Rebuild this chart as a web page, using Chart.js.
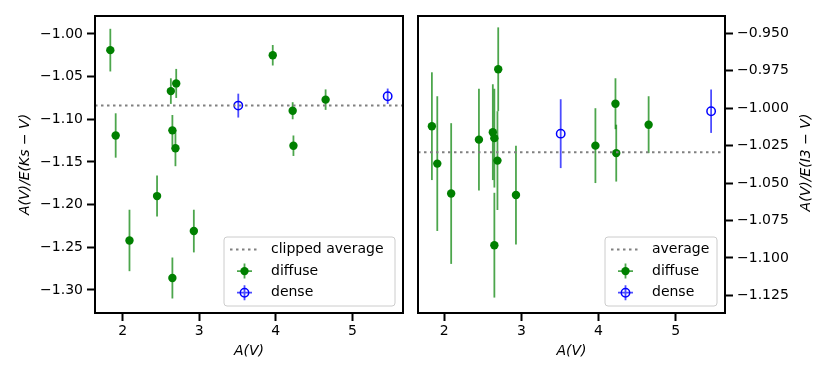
<!DOCTYPE html>
<html>
<head>
<meta charset="utf-8">
<script src="https://cdn.jsdelivr.net/npm/chart.js@4.4.0/dist/chart.umd.min.js"></script>
<style>
  html, body { margin: 0; padding: 0; background: #fff; }
  #wrap { position: relative; width: 830px; height: 378px; }
  #wrap canvas { position: absolute; top: 0; }
  #ksChart { left: 0; }
  #i3Chart { left: 410px; }
</style>
</head>
<body>
<div id="wrap">
  <canvas id="ksChart" width="410" height="378"></canvas>
  <canvas id="i3Chart" width="420" height="378"></canvas>
</div>
<script>
// A(V) of each sightline (shared by both panels)
const diffuseAV = [1.84, 1.91, 2.09, 2.45, 2.63, 2.65, 2.65, 2.69, 2.70, 2.93, 3.96, 4.22, 4.23, 4.65];
const denseAV = [3.51, 5.46];

// left panel: A(V)/E(Ks - V)
const diffuseKs = [-1.019, -1.119, -1.242, -1.190, -1.067, -1.113, -1.286, -1.134, -1.058, -1.231, -1.025, -1.090, -1.131, -1.077];
const diffuseKsErr = [0.025, 0.026, 0.036, 0.024, 0.015, 0.018, 0.024, 0.021, 0.017, 0.025, 0.012, 0.010, 0.012, 0.012];
const denseKs = [-1.084, -1.073];
const denseKsErr = [0.014, 0.009];
const ksAverage = -1.084;

// right panel: A(V)/E(I3 - V)
const diffuseI3 = [-1.012, -1.037, -1.057, -1.021, -1.016, -1.020, -1.0915, -1.035, -0.974, -1.058, -1.025, -0.997, -1.030, -1.011];
const diffuseI3Err = [0.036, 0.045, 0.047, 0.034, 0.032, 0.033, 0.035, 0.033, 0.028, 0.033, 0.025, 0.017, 0.019, 0.019];
const denseI3 = [-1.017, -1.002];
const denseI3Err = [0.023, 0.0145];
const i3Average = -1.0295;

// tick labels
const avTicks = [2, 3, 4, 5];
const ksTicks = [-1.30, -1.25, -1.20, -1.15, -1.10, -1.05, -1.00];
const i3Ticks = [-1.125, -1.100, -1.075, -1.050, -1.025, -1.000, -0.975, -0.950];

const FONT = 'DejaVu Sans';
const GREEN = '#008000';
const BLUE = '#0000ff';
const GREEN_BAR = 'rgba(0,128,0,0.7)';
const BLUE_BAR = 'rgba(0,0,255,0.7)';

function pts(xs, ys) {
  return xs.map((x, i) => ({ x: x, y: ys[i] }));
}

function minusFmt(digits) {
  return v => (v < 0 ? '\u2212' : '') + Math.abs(v).toFixed(digits);
}

// vertical error bars, drawn under the markers
const errorBars = {
  id: 'errorBars',
  beforeDatasetsDraw(chart) {
    const { ctx, chartArea, scales: { x, y } } = chart;
    ctx.save();
    ctx.beginPath();
    ctx.rect(chartArea.left, chartArea.top, chartArea.width, chartArea.height);
    ctx.clip();
    chart.data.datasets.forEach(ds => {
      if (!ds.yErr) return;
      ctx.strokeStyle = ds.barColor;
      ctx.lineWidth = 1.8;
      ds.data.forEach((p, i) => {
        const px = x.getPixelForValue(p.x);
        ctx.beginPath();
        ctx.moveTo(px, y.getPixelForValue(p.y - ds.yErr[i]));
        ctx.lineTo(px, y.getPixelForValue(p.y + ds.yErr[i]));
        ctx.stroke();
      });
    });
    ctx.restore();
  }
};

function drawHandle(ctx, kind, x0, cy) {
  if (kind === 'line') {
    ctx.strokeStyle = '#808080';
    ctx.lineWidth = 2;
    ctx.setLineDash([2.5, 3.5]);
    ctx.beginPath();
    ctx.moveTo(x0, cy);
    ctx.lineTo(x0 + 29, cy);
    ctx.stroke();
    ctx.setLineDash([]);
    return;
  }
  const cx = x0 + 14.5;
  const bar = kind === 'diffuse' ? GREEN_BAR : BLUE_BAR;
  ctx.strokeStyle = bar;
  ctx.lineWidth = 1.8;
  ctx.beginPath();
  ctx.moveTo(cx - 7.5, cy); ctx.lineTo(cx + 7.5, cy);
  ctx.moveTo(cx, cy - 7.5); ctx.lineTo(cx, cy + 7.5);
  ctx.stroke();
  ctx.beginPath();
  ctx.arc(cx, cy, 4.2, 0, Math.PI * 2);
  if (kind === 'diffuse') {
    ctx.fillStyle = GREEN;
    ctx.fill();
  } else {
    ctx.strokeStyle = BLUE;
    ctx.lineWidth = 1.5;
    ctx.stroke();
  }
}

// frame, legend box and right-hand axis title
const decor = {
  id: 'decor',
  afterDraw(chart, args, opts) {
    const { ctx, chartArea } = chart;
    ctx.save();
    const lg = opts.legend;
    if (lg) {
      const bx = chartArea.right - 8 - lg.width;
      const by = chartArea.bottom - 7 - 69;
      ctx.beginPath();
      ctx.roundRect(bx, by, lg.width, 69, 3);
      ctx.fillStyle = 'rgba(255,255,255,0.8)';
      ctx.fill();
      ctx.strokeStyle = '#cccccc';
      ctx.lineWidth = 1;
      ctx.stroke();
      ctx.font = '14px "' + FONT + '"';
      ctx.textBaseline = 'middle';
      ctx.textAlign = 'left';
      lg.items.forEach((it, i) => {
        const cy = by + 12.5 + i * 21.6;
        drawHandle(ctx, it.kind, bx + 6, cy);
        ctx.fillStyle = '#000';
        ctx.fillText(it.label, bx + 47, cy);
      });
    }
    if (opts.sideTitle) {
      ctx.save();
      ctx.translate(opts.sideTitle.x, (chartArea.top + chartArea.bottom) / 2 - 2);
      ctx.rotate(-Math.PI / 2);
      ctx.font = 'italic 14px "' + FONT + '"';
      ctx.fillStyle = '#000';
      ctx.textAlign = 'center';
      ctx.textBaseline = 'middle';
      ctx.fillText(opts.sideTitle.text, 0, 0);
      ctx.restore();
    }
    ctx.strokeStyle = '#000';
    ctx.lineWidth = 2;
    ctx.strokeRect(chartArea.left, chartArea.top, chartArea.width, chartArea.height);
    ctx.restore();
  }
};

function makeChart(id, cfg) {
  const tickFont = { family: FONT, size: 14 };
  return new Chart(document.getElementById(id), {
    type: 'scatter',
    data: {
      datasets: [
        {
          label: cfg.avgLabel,
          type: 'line',
          data: [{ x: cfg.xMin, y: cfg.avg }, { x: cfg.xMax, y: cfg.avg }],
          borderColor: '#808080',
          borderWidth: 2,
          borderDash: [2.5, 3.5],
          pointRadius: 0,
          fill: false
        },
        {
          label: 'diffuse',
          data: pts(diffuseAV, cfg.diffuse),
          yErr: cfg.diffuseErr,
          barColor: GREEN_BAR,
          pointRadius: 4.2,
          pointBackgroundColor: GREEN,
          pointBorderWidth: 0
        },
        {
          label: 'dense',
          data: pts(denseAV, cfg.dense),
          yErr: cfg.denseErr,
          barColor: BLUE_BAR,
          pointRadius: 4.2,
          pointBackgroundColor: 'rgba(0,0,0,0)',
          pointBorderColor: BLUE,
          pointBorderWidth: 1.5
        }
      ]
    },
    options: {
      responsive: false,
      animation: false,
      layout: { padding: cfg.padding },
      plugins: {
        legend: { display: false },
        tooltip: { enabled: false },
        decor: { legend: { width: cfg.legendWidth, items: [
          { kind: 'line', label: cfg.avgLabel },
          { kind: 'diffuse', label: 'diffuse' },
          { kind: 'dense', label: 'dense' }
        ] }, sideTitle: cfg.sideTitle }
      },
      scales: {
        x: {
          type: 'linear',
          min: cfg.xMin,
          max: cfg.xMax,
          afterBuildTicks: s => { s.ticks = avTicks.map(v => ({ value: v })); },
          afterFit: s => { s.height = 65; },
          grid: { drawOnChartArea: false, drawTicks: true, tickLength: 8, tickWidth: 2, tickColor: '#000' },
          border: { display: false },
          ticks: { color: '#000', font: tickFont, padding: 2, maxRotation: 0, callback: v => String(v) },
          title: { display: true, text: 'A(V)', color: '#000',
                   font: { family: FONT, size: 14, style: 'italic' }, padding: { top: 0, bottom: 18 } }
        },
        y: {
          type: 'linear',
          position: cfg.yPos,
          min: cfg.yMin,
          max: cfg.yMax,
          afterBuildTicks: s => { s.ticks = cfg.yTicks.map(v => ({ value: v })); },
          afterFit: s => { s.width = cfg.yWidth; },
          grid: { drawOnChartArea: false, drawTicks: true, tickLength: 8, tickWidth: 2, tickColor: '#000' },
          border: { display: false },
          ticks: { color: '#000', font: tickFont, padding: 4, callback: minusFmt(cfg.digits) },
          title: cfg.yTitle
            ? { display: true, text: cfg.yTitle, color: '#000',
                font: { family: FONT, size: 14, style: 'italic' }, padding: { top: 17, bottom: 0 } }
            : { display: false }
        }
      }
    },
    plugins: [errorBars, decor]
  });
}

makeChart('ksChart', {
  xMin: 1.64, xMax: 5.66, yMin: -1.327, yMax: -0.979,
  yTicks: ksTicks, digits: 2, yPos: 'left', yWidth: 95,
  padding: { top: 16, right: 7, left: 0, bottom: 0 },
  diffuse: diffuseKs, diffuseErr: diffuseKsErr, dense: denseKs, denseErr: denseKsErr,
  avg: ksAverage, avgLabel: 'clipped average', legendWidth: 171,
  yTitle: 'A(V)/E(Ks \u2212 V)'
});

makeChart('i3Chart', {
  xMin: 1.66, xMax: 5.64, yMin: -1.1368, yMax: -0.9384,
  yTicks: i3Ticks, digits: 3, yPos: 'right', yWidth: 105,
  padding: { top: 16, right: 0, left: 8, bottom: 0 },
  diffuse: diffuseI3, diffuseErr: diffuseI3Err, dense: denseI3, denseErr: denseI3Err,
  avg: i3Average, avgLabel: 'average', legendWidth: 112,
  sideTitle: { x: 396, text: 'A(V)/E(I3 \u2212 V)' }
});
</script>
</body>
</html>
